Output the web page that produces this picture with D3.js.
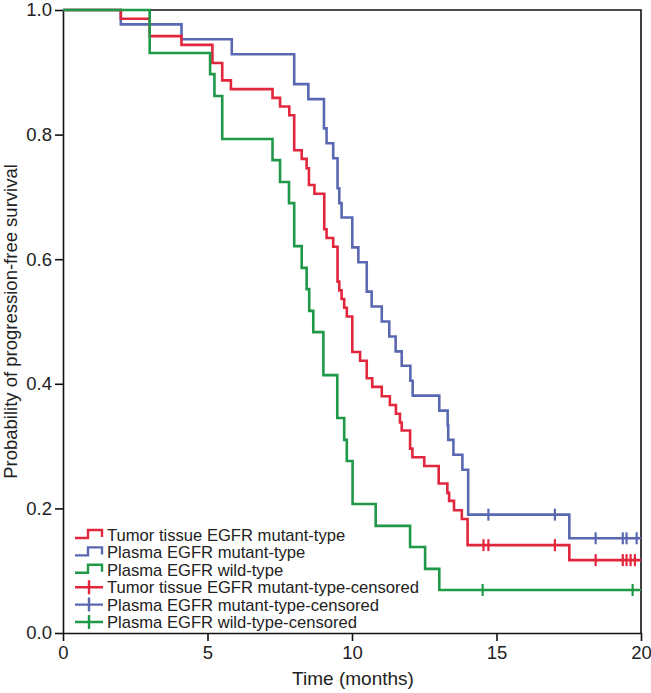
<!DOCTYPE html>
<html>
<head>
<meta charset="utf-8">
<script src="https://cdn.jsdelivr.net/npm/d3@7"></script>
<style>
  body { margin: 0; background: #fff; }
  svg text { font-family: "Liberation Sans", Arial, sans-serif; fill: #222; }
  .axis path, .axis line { stroke: #111; stroke-width: 1.6; }
  .axis text { font-size: 18.5px; }
</style>
</head>
<body>
<svg width="651" height="693"></svg>
<script>
// Kaplan-Meier curves (time in months, survival after each drop)
var redTimes = [2.0, 3.0, 4.1, 5.17, 5.51, 5.81, 7.25, 7.51, 7.83, 8.0, 8.26, 8.43, 8.51, 8.70, 9.04, 9.12, 9.35, 9.50, 9.56, 9.64, 9.73, 9.82, 10.01, 10.28, 10.51, 10.70, 11.03, 11.31, 11.52, 11.66, 11.72, 12.01, 12.09, 12.50, 13.00, 13.30, 13.36, 13.53, 13.80, 14.0, 17.52];
var redSurv  = [0.986, 0.958, 0.944, 0.915, 0.887, 0.873, 0.859, 0.845, 0.831, 0.775, 0.761, 0.746, 0.719, 0.705, 0.648, 0.634, 0.620, 0.564, 0.550, 0.536, 0.522, 0.508, 0.451, 0.437, 0.409, 0.395, 0.380, 0.366, 0.352, 0.338, 0.325, 0.296, 0.282, 0.268, 0.240, 0.225, 0.212, 0.197, 0.183, 0.141, 0.117];
var redCensored = [14.55, 14.72, 17.02, 18.43, 19.37, 19.5, 19.64, 19.79];

var blueTimes = [2.0, 4.1, 5.84, 8.0, 8.49, 9.03, 9.12, 9.35, 9.50, 9.56, 9.64, 10.01, 10.22, 10.51, 10.68, 11.03, 11.29, 11.51, 11.72, 12.02, 12.10, 13.02, 13.31, 13.33, 13.51, 13.82, 14.02, 17.52];
var blueSurv  = [0.977, 0.953, 0.929, 0.881, 0.857, 0.810, 0.786, 0.762, 0.714, 0.690, 0.667, 0.619, 0.595, 0.548, 0.524, 0.500, 0.476, 0.452, 0.429, 0.405, 0.381, 0.357, 0.333, 0.310, 0.286, 0.262, 0.190, 0.152];
var blueCensored = [14.72, 17.02, 18.43, 19.37, 19.5, 19.85];

var greenTimes = [3.0, 5.09, 5.24, 5.51, 7.25, 7.51, 7.82, 8.0, 8.26, 8.43, 8.52, 8.66, 9.01, 9.49, 9.73, 9.82, 10.02, 10.82, 12.01, 12.53, 13.02];
var greenSurv  = [0.931, 0.897, 0.862, 0.793, 0.759, 0.724, 0.690, 0.621, 0.586, 0.552, 0.517, 0.483, 0.414, 0.345, 0.310, 0.276, 0.207, 0.172, 0.138, 0.103, 0.069];
var greenCensored = [14.52, 19.71];

var xTicks = [0, 5, 10, 15, 20];
var yTicks = [0, 0.2, 0.4, 0.6, 0.8, 1.0];

var legendLabels = ['Tumor tissue EGFR mutant-type', 'Plasma EGFR mutant-type', 'Plasma EGFR wild-type',
  'Tumor tissue EGFR mutant-type-censored', 'Plasma EGFR mutant-type-censored', 'Plasma EGFR wild-type-censored'];

var colors = { red: '#e2263c', blue: '#5a68b1', green: '#1f9848' };

var svg = d3.select('svg'),
    plotL = 63, plotR = 641, plotT = 10, plotB = 633;

var x = d3.scaleLinear().domain([0, 20]).range([plotL, plotR]);
var y = d3.scaleLinear().domain([0, 1]).range([plotB, plotT]);

// frame (top and right)
svg.append('path')
  .attr('d', 'M' + plotL + ',' + plotT + ' H' + plotR + ' V' + plotB)
  .attr('fill', 'none').attr('stroke', '#111').attr('stroke-width', 1.6);

svg.append('g').attr('class', 'axis')
  .attr('transform', 'translate(' + plotL + ',0)')
  .call(d3.axisLeft(y).tickValues(yTicks).tickFormat(d3.format('.1f')).tickSize(8).tickSizeOuter(0).tickPadding(3));

svg.append('g').attr('class', 'axis')
  .attr('transform', 'translate(0,' + plotB + ')')
  .call(d3.axisBottom(x).tickValues(xTicks).tickSize(8).tickSizeOuter(0).tickPadding(5));

svg.append('text')
  .attr('transform', 'translate(17,' + ((plotT + plotB) / 2) + ') rotate(-90)')
  .attr('text-anchor', 'middle')
  .style('font-size', '18.5px')
  .text('Probability of progression-free survival');

svg.append('text')
  .attr('x', 353).attr('y', 685)
  .attr('text-anchor', 'middle')
  .style('font-size', '19px')
  .text('Time (months)');

var line = d3.line()
  .x(function(d) { return x(d[0]); })
  .y(function(d) { return y(d[1]); })
  .curve(d3.curveStepAfter);

function drawCurve(times, surv, censored, color) {
  var pts = [[0, 1]];
  times.forEach(function(t, i) { pts.push([t, surv[i]]); });
  pts.push([20, surv[surv.length - 1]]);

  svg.append('path')
    .datum(pts)
    .attr('fill', 'none')
    .attr('stroke', color)
    .attr('stroke-width', 2.6)
    .attr('d', line);

  // survival level at a censoring time
  function level(t) {
    var s = 1;
    times.forEach(function(tt, i) { if (tt <= t) s = surv[i]; });
    return s;
  }
  svg.selectAll(null)
    .data(censored)
    .enter().append('line')
    .attr('x1', function(d) { return x(d); })
    .attr('x2', function(d) { return x(d); })
    .attr('y1', function(d) { return y(level(d)) - 6; })
    .attr('y2', function(d) { return y(level(d)) + 6; })
    .attr('stroke', color)
    .attr('stroke-width', 2.2);
}

drawCurve(blueTimes, blueSurv, blueCensored, colors.blue);
drawCurve(redTimes, redSurv, redCensored, colors.red);
drawCurve(greenTimes, greenSurv, greenCensored, colors.green);

// legend
var legendColors = [colors.red, colors.blue, colors.green, colors.red, colors.blue, colors.green];
var legend = svg.append('g').attr('transform', 'translate(75,535)');
legendLabels.forEach(function(label, i) {
  var g = legend.append('g').attr('transform', 'translate(0,' + (i * 17.4) + ')');
  if (i < 3) {
    g.append('path')
      .attr('d', 'M0,3 H13 V-5 H27 V2')
      .attr('fill', 'none').attr('stroke', legendColors[i]).attr('stroke-width', 2.4);
  } else {
    g.append('path')
      .attr('d', 'M0,0 H28 M14,-7 V7')
      .attr('fill', 'none').attr('stroke', legendColors[i]).attr('stroke-width', 2.4);
  }
  g.append('text')
    .attr('x', 32).attr('y', 6)
    .style('font-size', '16.6px')
    .text(label);
});
</script>
</body>
</html>
